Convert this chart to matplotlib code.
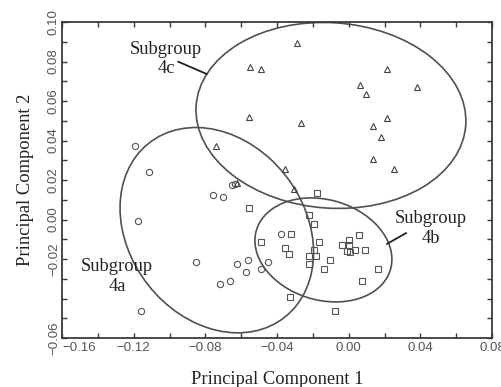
import matplotlib
matplotlib.use('Agg')
import matplotlib.pyplot as plt
from matplotlib.patches import Ellipse
from matplotlib.ticker import MultipleLocator

# Subgroup 4a (circles)
circ_x = [-0.1190, -0.1112, -0.0653, -0.0635, -0.0756, -0.0704, -0.1176, -0.0852,
          -0.1161, -0.0622, -0.0561, -0.0575, -0.0717, -0.0665, -0.0492, -0.0453,
          -0.0379]
circ_y = [0.0373, 0.0239, 0.0173, 0.0178, 0.0125, 0.0115, -0.0010, -0.0216,
          -0.0462, -0.0226, -0.0207, -0.0265, -0.0325, -0.0309, -0.0250, -0.0217,
          -0.0074]

# Subgroup 4b (squares)
sq_x = [-0.0175, -0.0555, -0.0222, -0.0194, -0.0321, -0.0490, -0.0355, -0.0331,
        -0.0166, -0.0192, -0.0223, -0.0182, -0.0221, -0.0103, -0.0138, -0.0327,
        -0.0076, -0.0036, 0.0001, 0.0003, 0.0060, -0.0011, 0.0007, 0.0035,
        0.0090, 0.0164, 0.0076]
sq_y = [0.0133, 0.0057, 0.0023, -0.0022, -0.0074, -0.0116, -0.0146, -0.0174,
        -0.0116, -0.0154, -0.0184, -0.0184, -0.0227, -0.0205, -0.0251, -0.0392,
        -0.0461, -0.0130, -0.0106, -0.0128, -0.0079, -0.0161, -0.0162, -0.0155,
        -0.0154, -0.0250, -0.0312]

# Subgroup 4c (triangles)
tri_x = [-0.0290, -0.0551, -0.0488, 0.0212, 0.0065, 0.0381, 0.0096, -0.0555,
         -0.0265, 0.0212, 0.0135, 0.0178, 0.0135, 0.0254, -0.0742, -0.0358,
         -0.0307, -0.0623]
tri_y = [0.0896, 0.0770, 0.0761, 0.0762, 0.0679, 0.0671, 0.0633, 0.0517,
         0.0489, 0.0514, 0.0474, 0.0418, 0.0304, 0.0256, 0.0373, 0.0256,
         0.0153, 0.0183]

# ellipses: 4a, 4b, 4c
ell_cx = [-0.0736, -0.0141, -0.0099]
ell_cy = [-0.0054, -0.0154, 0.0527]
ell_w = [0.1171, 0.0775, 0.1508]
ell_h = [0.0936, 0.0511, 0.0939]
ell_ang = [-40, -12.6, -3.4]

xticks = [-0.16, -0.12, -0.08, -0.04, 0.00, 0.04, 0.08]
xtick_labels = ['\u22120.16', '\u22120.12', '\u22120.08', '\u22120.04', '0.00', '0.04', '0.08']
yticks = [-0.06, -0.04, -0.02, 0.00, 0.02, 0.04, 0.06, 0.08, 0.10]
ytick_labels = ['\u22120.06', '', '\u22120.02', '0.00', '0.02', '0.04', '0.06', '0.08', '0.10']

serif = 'Liberation Serif'
sans = 'Liberation Sans'
dark = '#3a3a3a'

fig = plt.figure(figsize=(5.02, 3.87), dpi=100)
ax = fig.add_axes([0.1235, 0.1266, 0.8566, 0.8165])

for i in range(3):
    e = Ellipse((ell_cx[i], ell_cy[i]), ell_w[i], ell_h[i], angle=ell_ang[i],
                fill=False, edgecolor='#505050', lw=1.2)
    ax.add_patch(e)

ax.plot(circ_x, circ_y, 'o', ms=4.5, mfc='none', mec='#555555', mew=0.8)
ax.plot(sq_x, sq_y, 's', ms=4.2, mfc='none', mec='#555555', mew=0.8)
ax.plot(tri_x, tri_y, '^', ms=4.2, mfc='none', mec='#444444', mew=0.8)

# labels
ax.text(-0.1020, 0.0813, 'Subgroup\n4c', family=serif, fontsize=13.3, color='#222222',
        ha='center', va='center', linespacing=1.2)
ax.plot([-0.0951, -0.0793], [0.0799, 0.0737], color='#222222', lw=1.3)
ax.text(0.0459, -0.0047, 'Subgroup\n4b', family=serif, fontsize=13.3, color='#222222',
        ha='center', va='center', linespacing=1.2)
ax.plot([0.0320, 0.0215], [-0.0069, -0.0123], color='#222222', lw=1.3)
ax.text(-0.1293, -0.0290, 'Subgroup\n4a', family=serif, fontsize=13.3, color='#222222',
        ha='center', va='center', linespacing=1.2)

ax.set_xlim(-0.16, 0.08)
ax.set_ylim(-0.06, 0.10)
ax.set_xticks(xticks)
ax.set_xticklabels(xtick_labels, family=sans, fontsize=9.5, color='#555555')
ax.get_xticklabels()[0].set_ha('left')
ax.set_yticks(yticks)
ax.set_yticklabels(ytick_labels, family=sans, fontsize=9.5, color='#555555',
                   rotation=90, va='center')
ax.xaxis.set_minor_locator(MultipleLocator(0.02))
ax.yaxis.set_minor_locator(MultipleLocator(0.01))
ax.tick_params(which='both', direction='in', top=True, right=True, length=3.5,
               width=1.0, color=dark)
ax.tick_params(axis='x', pad=3)
ax.tick_params(axis='y', pad=1.5)
for s in ax.spines.values():
    s.set_linewidth(1.3)
    s.set_color(dark)

ax.set_xlabel('Principal Component 1', family=serif, fontsize=13.3, color='#222222', labelpad=12)
ax.set_ylabel('Principal Component 2', family=serif, fontsize=13.3, color='#222222', labelpad=10)

fig.savefig('out.png', dpi=100)
